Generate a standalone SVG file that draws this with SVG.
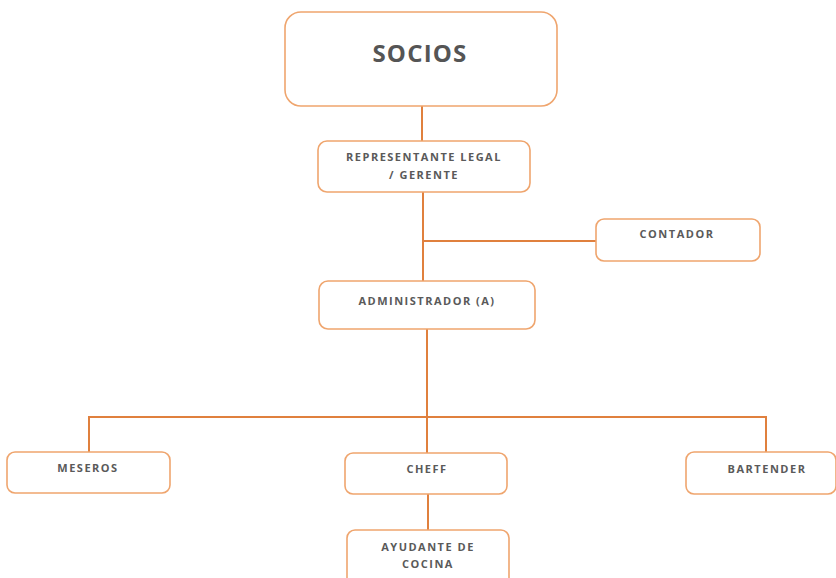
<svg xmlns="http://www.w3.org/2000/svg" width="836" height="578" viewBox="0 0 836 578">
<style>
.box{fill:#fff;stroke:#EFA56E;stroke-width:1.6}
.t{font-family:"Open Sans","Liberation Sans",sans-serif;font-weight:bold;fill:#5a5a5a;text-anchor:middle;font-size:11px;letter-spacing:1.5px}
.big{font-size:24px;letter-spacing:1.2px;fill:#555}
.c{stroke:#E0803E;stroke-width:2;fill:none}
</style>
<rect width="836" height="578" fill="#fff"/>
<g id="connectors">
<line class="c" x1="422" y1="106" x2="422" y2="141"/>
<line class="c" x1="423" y1="192" x2="423" y2="281"/>
<line class="c" x1="423" y1="241" x2="596" y2="241"/>
<line class="c" x1="427" y1="329" x2="427" y2="453"/>
<polyline class="c" points="89,452 89,417 766,417 766,452"/>
<line class="c" x1="428" y1="494" x2="428" y2="530"/>
</g>
<g id="socios"><rect class="box" x="285" y="12" width="272" height="94" rx="16"/><text class="t big" x="420" y="62">SOCIOS</text></g>
<g id="representante"><rect class="box" x="318" y="141" width="212" height="51" rx="9"/><text class="t" x="424" y="161">REPRESENTANTE LEGAL</text><text class="t" x="424" y="179">/ GERENTE</text></g>
<g id="contador"><rect class="box" x="596" y="219" width="164" height="42" rx="8"/><text class="t" x="677" y="238">CONTADOR</text></g>
<g id="administrador"><rect class="box" x="319" y="281" width="216" height="48" rx="9"/><text class="t" x="427" y="305">ADMINISTRADOR (A)</text></g>
<g id="meseros"><rect class="box" x="7" y="452" width="163" height="41" rx="8"/><text class="t" x="88" y="472">MESEROS</text></g>
<g id="cheff"><rect class="box" x="345" y="453" width="162" height="41" rx="8"/><text class="t" x="427" y="473">CHEFF</text></g>
<g id="bartender"><rect class="box" x="686" y="452" width="150" height="42" rx="8"/><text class="t" x="767" y="473">BARTENDER</text></g>
<g id="ayudante"><rect class="box" x="347" y="530" width="162" height="60" rx="8"/><text class="t" x="428" y="551">AYUDANTE DE</text><text class="t" x="428" y="568">COCINA</text></g>
</svg>
